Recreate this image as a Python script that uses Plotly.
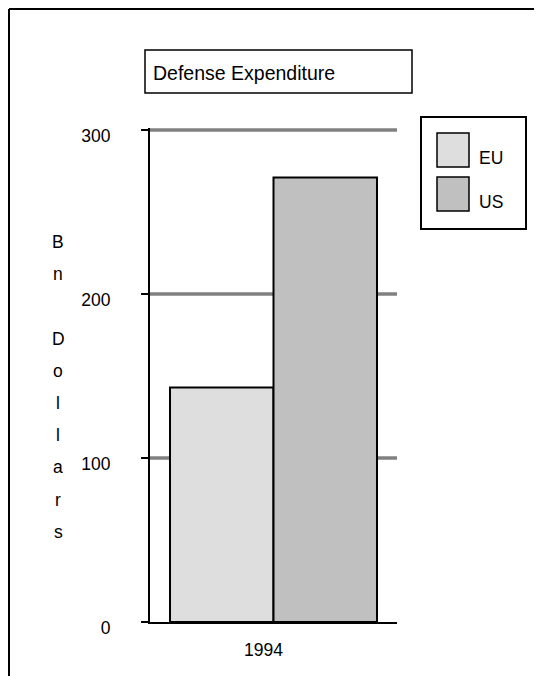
import plotly.graph_objects as go

# ---- data ----
categories = ["1994"]
series_names = ["EU", "US"]
eu_values = [143]
us_values = [271]
y_ticks = [0, 100, 200, 300]
title_text = "Defense Expenditure"
y_title = "Bn Dollars"

colors = {"EU": "#dedede", "US": "#c0c0c0"}
FONT = "Liberation Sans, Arial, sans-serif"
FS = 17.5

OFF = 8  # page body margin
W, H = 542 - OFF, 676 - OFF
# plot area: 0 at page y=622, 300 at page y=130; a little headroom so top gridline is not clipped
HEAD = 2
L, T, PW, PH = 150 - OFF, 130 - HEAD - OFF, 247, 492 + HEAD
YMAX = 300 * (492 + HEAD) / 492


def px(x):
    return (x - OFF - L) / PW


def py(y):
    return (T + PH - (y - OFF)) / PH


fig = go.Figure()
for name, vals in zip(series_names, [eu_values, us_values]):
    fig.add_trace(go.Bar(
        x=categories, y=vals, name=name,
        marker=dict(color=colors[name], line=dict(color="black", width=2)),
        showlegend=False,
    ))

shapes = []
annotations = []

# gridlines (behind bars)
for v in y_ticks[1:]:
    shapes.append(dict(type="line", xref="paper", yref="y", x0=0, x1=1, y0=v, y1=v, layer="below",
                       line=dict(color="#808080", width=3.5)))

# outer frame (left and top)
shapes.append(dict(type="line", xref="paper", yref="paper", x0=px(9), x1=px(9), y0=py(9), y1=py(690),
                   line=dict(color="black", width=2)))
shapes.append(dict(type="line", xref="paper", yref="paper", x0=px(9), x1=px(560), y0=py(9), y1=py(9),
                   line=dict(color="black", width=2)))

# title box
shapes.append(dict(type="rect", xref="paper", yref="paper", x0=px(145), x1=px(412), y0=py(93), y1=py(50),
                   line=dict(color="black", width=1.5), fillcolor="white"))
annotations.append(dict(text=title_text, xref="paper", yref="paper", x=px(151), y=py(73),
                        xanchor="left", yanchor="middle", showarrow=False,
                        font=dict(family=FONT, size=19.5, color="black")))

# legend box
shapes.append(dict(type="rect", xref="paper", yref="paper", x0=px(421), x1=px(526), y0=py(229), y1=py(117),
                   line=dict(color="black", width=2), fillcolor="white"))
for i, name in enumerate(series_names):
    top = 133 + i * 44
    shapes.append(dict(type="rect", xref="paper", yref="paper", x0=px(437), x1=px(469),
                       y0=py(top + 34), y1=py(top),
                       line=dict(color="black", width=1.5), fillcolor=colors[name]))
    annotations.append(dict(text=name, xref="paper", yref="paper", x=px(477), y=py(top + 25),
                            xanchor="left", yanchor="middle", showarrow=False,
                            font=dict(family=FONT, size=FS, color="black")))

# vertical stacked y title
for i, ch in enumerate(y_title):
    if ch == " ":
        continue
    annotations.append(dict(text=ch, xref="paper", yref="paper", x=px(58), y=py(242 + i * 32.2),
                            xanchor="center", yanchor="middle", showarrow=False,
                            font=dict(family=FONT, size=FS, color="black")))

# y axis extension below zero
shapes.append(dict(type="line", xref="paper", yref="y", x0=0, x1=0, ysizemode="pixel", yanchor=0,
                   y0=0, y1=-8, line=dict(color="black", width=2)))

fig.update_layout(
    width=W, height=H,
    margin=dict(l=L, r=W - L - PW, t=T, b=H - T - PH, pad=0),
    paper_bgcolor="white", plot_bgcolor="white",
    barmode="group", bargap=0.162, bargroupgap=0,
    shapes=shapes, annotations=annotations,
    font=dict(family=FONT, size=FS, color="black"),
    xaxis=dict(showline=True, linecolor="black", linewidth=2, ticks="", showgrid=False,
               zeroline=False, ticklabelstandoff=11, ticklabelshift=-10, tickfont=dict(size=FS)),
    yaxis=dict(range=[0, YMAX], tickvals=y_ticks, showline=True, linecolor="black", linewidth=2,
               ticks="outside", ticklen=7, tickwidth=2, tickcolor="black",
               showgrid=False, zeroline=False,
               ticklabelstandoff=27, ticklabelshift=6, tickfont=dict(size=FS)),
)

fig.write_html("out.html")
